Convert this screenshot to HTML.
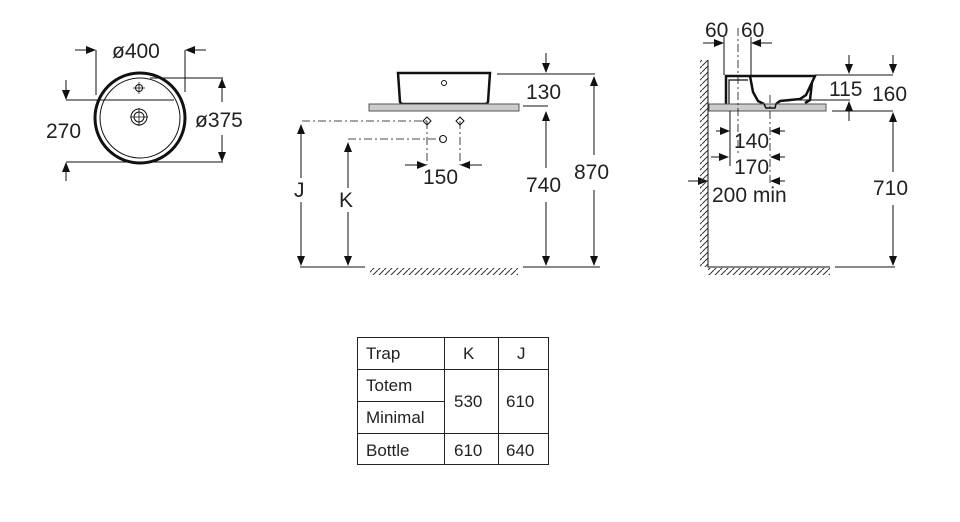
<!DOCTYPE html>
<html><head><meta charset="utf-8"><style>
html,body{margin:0;padding:0;background:#fff;}
svg{display:block;}
text{font-family:"Liberation Sans",sans-serif;fill:#222;}
</style></head><body>
<svg width="960" height="522" viewBox="0 0 960 522" xmlns="http://www.w3.org/2000/svg">
<defs>
<marker id="a" markerWidth="10" markerHeight="8" refX="9" refY="4" orient="auto" markerUnits="userSpaceOnUse"><path d="M0,0 L10,4 L0,8 Z" fill="#111"/></marker>
<pattern id="h" width="6" height="6" patternUnits="userSpaceOnUse"><path d="M0,6 L6,0" stroke="#333" stroke-width="1"/></pattern>
</defs>
<g stroke="#111" stroke-width="1" fill="none">
<circle cx="140" cy="118" r="45" stroke-width="3"/>
<circle cx="140" cy="118" r="40" stroke-width="1"/>
<circle cx="139" cy="88" r="3.5"/>
<path d="M133,88h12M139,82v12" stroke-width="0.8"/>
<circle cx="139" cy="117" r="8"/><circle cx="139" cy="117" r="5"/>
<path d="M130,117h18M139,108v18" stroke-width="0.8"/>
<path d="M96,50v45M185,50v42"/>
<path d="M75,50h20" marker-end="url(#a)"/><path d="M206,50h-20" marker-end="url(#a)"/>
<path d="M66,100h108M66,162h157M150,78h73"/>
<path d="M66,80v19" marker-end="url(#a)"/><path d="M66,181v-18" marker-end="url(#a)"/>
<path d="M222,102v-23" marker-end="url(#a)"/><path d="M222,135v26" marker-end="url(#a)"/>
<path d="M398,73 H490 L488,102 Q487,104 484,104 H404 Q401,104 400,102 Z" stroke-width="2.5"/>
<circle cx="444" cy="83" r="2.5"/>
<rect x="369" y="104" width="150" height="7" fill="#ccc" stroke="#555"/>
<path d="M497,74h98M523,106h25"/>
<path d="M546,53v19" marker-end="url(#a)"/>
<path d="M546,168v-56" marker-end="url(#a)"/><path d="M546,202v63" marker-end="url(#a)"/>
<path d="M594,155v-78" marker-end="url(#a)"/><path d="M594,190v75" marker-end="url(#a)"/>
<path d="M302,121H427M348,139H443M427,121v44M460,121v44" stroke-dasharray="8,3,2,3" stroke-width="0.8"/>
<path d="M423,121l4,-4l4,4l-4,4zM456,121l4,-4l4,4l-4,4z"/>
<circle cx="443" cy="139" r="3.5"/>
<path d="M405,165h21" marker-end="url(#a)"/><path d="M482,165h-21" marker-end="url(#a)"/>
<path d="M301,178v-53" marker-end="url(#a)"/><path d="M301,202v63" marker-end="url(#a)"/>
<path d="M348,188v-45" marker-end="url(#a)"/><path d="M348,212v53" marker-end="url(#a)"/>
<path d="M300,267h65M523,267h77"/>
<path d="M708,60V267H830"/>
<path d="M835,267h60"/>
<path d="M726,104 L726,76 H750 L753,92 L758,101 L764,104 M776,104 L780,101 L800,99 L806,95 L815,76 H750 M812,82 L810,100 L805,103" stroke-width="2.5"/>
<path d="M729,104V80H748" stroke-width="1.2"/>
<rect x="709" y="104" width="117" height="7" fill="#ccc" stroke="#555"/>
<path d="M764,104 L766,108 H775 L776,104" stroke-width="1.5"/>
<path d="M724,37v38M751,37v38"/>
<path d="M703,43h20" marker-end="url(#a)"/><path d="M772,43h-20" marker-end="url(#a)"/>
<path d="M738,28v125M770,95v90" stroke-dasharray="8,3,2,3" stroke-width="0.8"/>
<path d="M730,111v55"/>
<path d="M815,75h78M790,100h60M832,111h61"/>
<path d="M849,55v18" marker-end="url(#a)"/><path d="M849,121v-19" marker-end="url(#a)"/>
<path d="M893,55v18" marker-end="url(#a)"/>
<path d="M893,172v-59" marker-end="url(#a)"/><path d="M893,205v60" marker-end="url(#a)"/>
<path d="M716,131h13" marker-end="url(#a)"/><path d="M785,131h-14" marker-end="url(#a)"/>
<path d="M711,157h17" marker-end="url(#a)"/><path d="M785,157h-14" marker-end="url(#a)"/>
<path d="M688,181h19" marker-end="url(#a)"/><path d="M785,181h-14" marker-end="url(#a)"/>
</g>
<rect x="370" y="268" width="148" height="7" fill="url(#h)"/>
<rect x="700" y="60" width="8" height="207" fill="url(#h)"/>
<rect x="708" y="268" width="122" height="7" fill="url(#h)"/>
<g font-size="21">
<text x="112" y="58">ø400</text>
<text x="46" y="138">270</text>
<text x="195" y="127">ø375</text>
<text x="526" y="99">130</text>
<text x="423" y="184">150</text>
<text x="526" y="192">740</text>
<text x="574" y="179">870</text>
<text x="294" y="197">J</text>
<text x="339" y="207">K</text>
<text x="705" y="37">60</text>
<text x="741" y="37">60</text>
<text x="829" y="96">115</text>
<text x="872" y="101">160</text>
<text x="734" y="148">140</text>
<text x="734" y="174">170</text>
<text x="712" y="202">200 min</text>
<text x="873" y="195">710</text>
</g>
<g stroke="#222" stroke-width="1" fill="none">
<rect x="357.5" y="337.5" width="191" height="127"/>
<path d="M444.5,337.5V464.5M498.5,337.5V464.5M357.5,369.5H548.5M357.5,433.5H548.5M357.5,401.5H444.5"/>
</g>
<g font-size="17">
<text x="366" y="359">Trap</text>
<text x="463" y="359">K</text>
<text x="517" y="359">J</text>
<text x="366" y="391">Totem</text>
<text x="366" y="423">Minimal</text>
<text x="454" y="407">530</text>
<text x="506" y="407">610</text>
<text x="366" y="456">Bottle</text>
<text x="454" y="456">610</text>
<text x="506" y="456">640</text>
</g>
</svg>
</body></html>
